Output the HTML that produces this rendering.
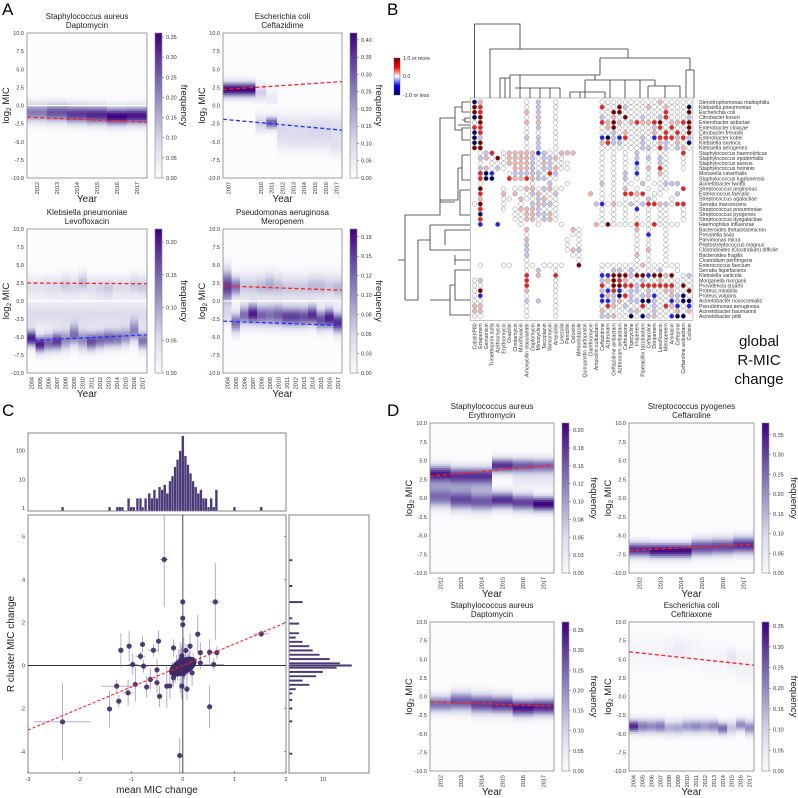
<!DOCTYPE html>
<html><head><meta charset="utf-8">
<style>
html,body{margin:0;padding:0;background:#fff;}
svg{display:block;font-family:"Liberation Sans",sans-serif;}
</style></head>
<body>
<svg id="fig" width="798" height="798" viewBox="0 0 798 798" xmlns="http://www.w3.org/2000/svg">
<defs>
<linearGradient id="purp" x1="0" y1="1" x2="0" y2="0">
<stop offset="0" stop-color="#fcfbfd"/><stop offset="0.25" stop-color="#dadaeb"/><stop offset="0.5" stop-color="#9e9ac8"/><stop offset="0.75" stop-color="#6a51a3"/><stop offset="1" stop-color="#3f007d"/>
</linearGradient>
<linearGradient id="seis" x1="0" y1="1" x2="0" y2="0">
<stop offset="0" stop-color="#00004c"/><stop offset="0.25" stop-color="#0000ff"/><stop offset="0.5" stop-color="#ffffff"/><stop offset="0.75" stop-color="#ff0000"/><stop offset="1" stop-color="#800000"/>
</linearGradient>
</defs>
<text x="2" y="15" font-size="17">A</text>
<text x="387" y="15" font-size="17">B</text>
<text x="2" y="416" font-size="17">C</text>
<text x="387" y="416" font-size="17">D</text>
<g id="gA"></g>
<g id="gB"></g>
<g id="gC"></g>
<g id="gD"></g>
</svg>
<script>
// ---------- Panel A / D heatmap data ----------
const a1Years=["2012","2013","2014","2015","2016","2017"];
const a1Modes=[[[-1.0,0.9,0.22]],[[-1.0,0.9,0.27]],[[-1.2,0.9,0.3]],[[-1.3,0.9,0.32]],[[-1.5,0.85,0.36]],[[-1.4,0.85,0.34]]];
const a1Red=[-1.6,-2.3];const a1Blue=null;const a1Max=0.36;
const a1Ticks=[0,0.05,0.1,0.15,0.2,0.25,0.3,0.35];

const a2Years=["2007","","","2010","2011","2012","2013","2014","2015","2016","2017"];
const a2Modes=[[[2.2,0.7,0.42]],[[2.2,0.7,0.42]],[[2.2,0.7,0.42]],[[1.8,0.8,0.12],[-2.5,0.8,0.12]],[[-2.4,0.6,0.3],[1,0.8,0.05]],[[-3,1.2,0.1],[-5,1,0.05]],[[-3,1.2,0.09],[-5,1,0.06]],[[-3,1.2,0.09],[-5,1,0.06]],[[-3,1.2,0.1],[-5,1,0.06]],[[-3,1.2,0.1],[-5,1,0.06]],[[-3,1.2,0.09],[-5.5,1,0.07]]];
const a2Red=[2.2,3.3];const a2Blue=[-1.9,-3.4];const a2Max=0.42;
const a2Ticks=[0,0.05,0.1,0.15,0.2,0.25,0.3,0.35,0.4];

const a3Years=["2004","2005","2006","2007","2008","2009","2010","2011","2012","2013","2014","2015","2016","2017"];
const a3Modes=[[[-5.2,0.8,0.2],[2,1,0.04],[-2,1.3,0.05]],[[-6,0.8,0.2],[2,1,0.04],[-2,1.3,0.05]],[[-5.8,0.9,0.15],[2,1,0.05],[-2,1.3,0.05]],[[-5.6,0.9,0.18],[2,1,0.05],[-2,1.3,0.05]],[[-5.4,1,0.12],[2.2,1,0.07],[-2,1.3,0.05]],[[-4.8,1,0.14],[2,1,0.06],[-2,1.3,0.05]],[[-5.4,1,0.12],[2.5,1,0.08],[-2,1.3,0.05]],[[-5.6,0.9,0.17],[2,1,0.05],[-2,1.3,0.05]],[[-5.4,0.9,0.15],[1.8,1,0.06],[-2,1.3,0.05]],[[-5.2,0.9,0.15],[1.8,1,0.07],[-2,1.3,0.05]],[[-5.2,0.9,0.14],[2,1,0.05],[-2,1.3,0.05]],[[-5,0.9,0.12],[2,1,0.05],[-2,1.3,0.05]],[[-4.3,1,0.12],[2.2,1,0.07],[-2,1.3,0.05]],[[-5.5,0.9,0.14],[2,1,0.07],[-2,1.3,0.05]]];
const a3Red=[2.5,2.4];const a3Blue=[-5.5,-4.7];const a3Max=0.22;
const a3Ticks=[0,0.05,0.1,0.15,0.2];

const a4Years=a3Years;
const a4Modes=[[[2,1.6,0.15],[-2,1,0.04]],[[2,1,0.12],[-3,1,0.12]],[[-2,1,0.12],[2,1.2,0.06]],[[-1.8,1,0.17],[2,1.2,0.06]],[[-2,1,0.13],[2,1.2,0.07]],[[-2,1.1,0.12],[2.2,1.2,0.08]],[[-2,1.1,0.13],[2,1.2,0.07]],[[-2.2,1,0.15],[1.8,1.2,0.06]],[[-2.2,1,0.15],[1.8,1.2,0.06]],[[-2.2,1,0.14],[1.8,1.2,0.06]],[[-2,1,0.16],[2,1.2,0.07]],[[-2.6,1,0.14],[2,1.2,0.07]],[[-2.4,1,0.17],[2,1.2,0.06]],[[-3,1,0.16],[1.8,1.2,0.07]]];
const a4Red=[2.1,1.5];const a4Blue=[-2.8,-3.4];const a4Max=0.185;
const a4Ticks=[0,0.025,0.05,0.075,0.1,0.125,0.15,0.175];
const a4Labels=["0.00","0.03","0.05","0.08","0.10","0.12","0.15","0.18"];

const d1Years=a1Years;
const d1Modes=[[[3.2,0.8,0.19],[0,0.9,0.13],[1.5,0.8,0.05]],[[3,0.8,0.17],[-0.3,0.9,0.16],[1.5,0.8,0.05]],[[3,0.8,0.17],[-0.5,0.9,0.15],[1.5,0.8,0.05]],[[4.3,0.7,0.18],[-0.3,0.8,0.18]],[[4.3,0.7,0.15],[-0.6,0.8,0.17],[2.5,0.8,0.03]],[[4.3,0.7,0.14],[-0.8,0.7,0.21],[2.5,0.8,0.03]]];
const d1Red=[2.9,4.4];const d1Max=0.21;
const d1Ticks=[0,0.025,0.05,0.075,0.1,0.125,0.15,0.175,0.2];
const d1Labels=["0.00","0.03","0.05","0.08","0.10","0.12","0.15","0.18","0.20"];

const d2Years=a1Years;
const d2Modes=[[[-6.9,0.7,0.33]],[[-7,0.7,0.37]],[[-7,0.7,0.37]],[[-6.6,0.8,0.3]],[[-6.5,0.8,0.3]],[[-6.3,0.8,0.33]]];
const d2Red=[-7,-6.2];const d2Max=0.38;
const d2Ticks=[0,0.05,0.1,0.15,0.2,0.25,0.3,0.35];

const d3Years=a1Years;
const d3Modes=[[[-1,0.8,0.24]],[[-0.7,0.9,0.27]],[[-1,0.9,0.3]],[[-1.1,0.85,0.32]],[[-1.5,0.8,0.35]],[[-1.4,0.8,0.33]]];
const d3Red=[-0.7,-1.3];const d3Max=0.37;
const d3Ticks=[0,0.05,0.1,0.15,0.2,0.25,0.3,0.35];

const d4Years=a3Years;
const d4Modes=[[[-4,0.6,0.32],[6,1.5,0.02]],[[-4,0.7,0.22],[6,1.5,0.02]],[[-4,0.7,0.2],[6,1.5,0.02]],[[-4,0.7,0.22],[6,1.5,0.02]],[[-4.2,0.7,0.15],[6,1.5,0.03]],[[-4.2,0.7,0.16],[6.3,1.2,0.04]],[[-4,0.7,0.18],[6,1.5,0.03]],[[-4,0.7,0.2],[6,1.5,0.02]],[[-4,0.7,0.18],[5,1.5,0.02]],[[-4,0.7,0.2],[5,1.5,0.02]],[[-4.3,0.6,0.24],[5,1.5,0.02]],[[-4.2,0.7,0.12],[5,1,0.06]],[[-3.8,0.6,0.2],[4,1.5,0.03]],[[-4.2,0.7,0.2],[4,1.5,0.03]]];
const d4Red=[6,4.2];const d4Max=0.36;
const d4Ticks=[0,0.05,0.1,0.15,0.2,0.25,0.3,0.35];

// ---------- Panel B data ----------
const bCols=["ColistinP80","Ertapenem","Gentamicin","Trimethoprim sulfa","Azithromycin","Erythromycin","Oxacillin","Clindamycin","Moxifloxacin","Amoxycillin clavulanate","Daptomycin","Minocycline","Teicoplanin","Vancomycin","Ampicillin","Linezolid","Penicillin","Cefoxitin","Metronidazole","Quinupristin dalfopristin","Clarithromycin","Ampicillin sulbactam","Ceftazidime","Aztreonam","Ceftazidime avibactam","Aztreonam avibactam","Ceftriaxone","Tigecycline","Imipenem","Piperacillin tazobactam","Ceftaroline","Doripenem","Levofloxacin","Meropenem","Amikacin","Cefepime","Ceftaroline avibactam","Colistin"];
const bRows=["Stenotrophomonas maltophilia","Klebsiella pneumoniae","Escherichia coli","Citrobacter koseri","Enterobacter asburiae","Enterobacter cloacae","Citrobacter freundii","Enterobacter kobei","Klebsiella oxytoca","Klebsiella aerogenes","Staphylococcus haemolyticus","Staphylococcus epidermidis","Staphylococcus aureus","Staphylococcus hominis","Moraxella catarrhalis","Staphylococcus lugdunensis","Acinetobacter lwoffii","Streptococcus anginosus","Enterococcus faecalis","Streptococcus agalactiae","Serratia marcescens","Streptococcus pneumoniae","Streptococcus pyogenes","Streptococcus dysgalactiae","Haemophilus influenzae","Bacteroides thetaiotaomicron","Prevotella bivia","Parvimonas micra","Peptostreptococcus magnus","Clostridioides (Clostridium) difficile","Bacteroides fragilis","Clostridium perfringens","Enterococcus faecium","Serratia liquefaciens","Klebsiella variicola","Morganella morganii","Providencia stuartii","Proteus mirabilis","Proteus vulgaris","Acinetobacter nosocomialis","Pseudomonas aeruginosa","Acinetobacter baumannii","Acinetobacter pittii"];
const bValues=[
"Bp       o l  o       oooooooooopoooooop",
"Rr       o l  o       rooRlooopoopoooBR",
"Rr       p l  o       ooRRoooooooroooRb",
"BR       o l  o       lopoRooloolrooolb",
"oR       p p  o       rpRpoprpprRopprRr",
"rr       o l  o       opRoooooolrorooRR",
"Br       o o  o       oolopoooopororoRb",
"Bl       l l  o       bBlbroolobrrrprlo",
"BR       o l  o       prllooolooplopoBb",
"RR       o l  o       ooooooollorlolpoo",
" olr opppppblooppp    o o o l o oo  r ",
" lpoRopppplollpo      o o o l l lo  o ",
" o ooopppploplooo     o o o b o lo  o ",
" lpolo ppplollpoo     o o o l p ro  o ",
" rBb  olllllorl       o o l b o po    ",
" rBB  rpprplloo       o o l o o oo    ",
" o        o  l  o     l o oo l oolll  ",
" R   o ooppolpoo      o o p o o oo  r ",
" r   p p olpool     p o o rrpr oo  l ",
" p   oo poolpoo       o o o o lo  o ",
"oR   o  o lpllo      lbopoololrrplorr",
" r   o oppplooo       o o o b o oo  o ",
" B     ooppllpo       o o o o o oo  o ",
" r     ooppolpo       o o o o o oo  o ",
" b  b   o  o   o     poRoooorooroooo ",
"         p       po         p o  o    ",
"         o       oo         o b  o    ",
"         p      o o         o o  o    ",
"         l      o o         o o  o    ",
"         l      opl         o p  o    ",
"         l       oo         p o  o    ",
"         o        o         o o  o    ",
" o   oo  oo oooo  R   ooooooopoooooo  ",
"         o l  o       o llolo ool  o ",
"         r p  r       bbRRRlRRbRRpR ol",
"ol       r    o       lpRrpooloopooooo",
"oo       r    o       roRRrrlrrrrrroRo",
"oR       p    o       lbrbollolooppooR",
"ob       o    o       bplBrlolpbooplBo",
"oo       l l  o       bblpollBBlooblBB",
"pp       o    o       orpoloorolorpbob",
"pp       o    o       poooolpoolooopop",
"oo       o    o       llpooBoBlpoobBB"];

// ---------- Panel C data ----------
const cPtsX=[-0.36,0,0.63,1.52,-2.33,-1.42,-1.24,-1.28,-1.2,-1.04,-0.97,-0.78,-0.82,-1.06,-0.57,-0.47,-0.45,0.52,0.29,-0.06,0,0,-0.18,0.14,0.34,0.66,0.52,-0.63,-0.5,-0.76,-0.31,-0.18,-0.02,0.18,0.08,-0.92,-0.7,-0.5,-0.25,0.34,0.6,0.02,-0.05,0.05,-0.1,0.1,0,-0.03,0.04,-0.08,0.08,-0.12,0.12,0.01,-0.02,0.03,-0.15,0.2,-0.2,0.06];
const cPtsY=[4.93,2.96,2.96,1.47,-2.62,-2.02,-1.66,-0.96,0.71,0.9,0.05,0.98,0.43,-1.27,0.71,1.13,-1.43,-1.92,1.46,-4.19,2.2,1.9,0.82,0.9,0.6,0.6,0.62,-0.65,-0.2,-0.03,-0.96,-0.57,-0.96,-0.34,-1.1,-0.88,-1.0,-0.8,-0.95,0.12,0.05,0.1,-0.1,0.2,-0.2,0.05,-0.3,0.3,-0.05,0.15,-0.15,0.0,0.25,-0.4,0.45,-0.25,-0.3,0.2,-0.35,0.7];
const cErrX=[0.08,0.02,0.1,0.15,0.55,0.05,0.05,0.3,0.05,0.05,0.1,0.05,0.1,0.1,0.1,0.05,0.05,0.05,0.05,0.02,0.02,0.02,0.05,0.05,0.05,0.05,0.05,0.05,0.05,0.1,0.05,0.05,0.05,0.05,0.05,0.05,0.05,0.05,0.05,0.05,0.2,0.05,0.05,0.05,0.05,0.05,0.05,0.05,0.05,0.05,0.05,0.05,0.05,0.05,0.05,0.05,0.05,0.05,0.05,0.05];
const cErrY=[2.2,1.5,1.8,0.15,1.8,0.85,0.3,0.3,0.8,0.7,0.5,0.4,0.2,0.6,0.3,0.5,0.5,1.0,0.9,0.8,1.0,0.8,0.4,0.6,0.5,0.3,0.6,0.5,0.5,0.3,1.0,0.4,0.6,0.6,0.5,0.8,0.5,0.5,0.6,0.3,0.3,1.2,1.2,0.6,0.5,0.5,0.8,0.5,0.4,0.6,0.5,0.5,0.4,0.6,0.5,0.4,0.5,0.4,0.5,0.3];
const cTopBins=[-2.33,-1.42,-1.27,-1.22,-1.17,-1.05,-1.0,-0.95,-0.88,-0.82,-0.78,-0.72,-0.65,-0.6,-0.55,-0.5,-0.45,-0.4,-0.35,-0.3,-0.25,-0.2,-0.15,-0.1,-0.05,0,0.05,0.1,0.15,0.2,0.25,0.3,0.35,0.4,0.45,0.5,0.55,0.6,0.65,1.0,1.52];
const cTopCounts=[1,1,1,1,1,2,1,1,2,2,1,2,3,2,4,2,5,4,6,3,8,12,25,45,90,300,60,30,15,8,5,3,4,2,2,1,2,1,4,1,1];
const cRightBins=[4.9,3.7,2.95,2.2,1.95,1.5,1.3,1.1,0.9,0.7,0.5,0.3,0.1,0.0,-0.1,-0.3,-0.5,-0.7,-0.9,-1.1,-1.3,-1.6,-2.0,-2.6,-4.1];
const cRightCounts=[1,1,4,1,3,3,2,4,6,7,9,12,15,18.5,14,10,8,4,6,2,1,1,1,1,1];

// ---------- helpers ----------
const NS="http://www.w3.org/2000/svg";
function mk(parent,tag,attrs,txt){const e=document.createElementNS(NS,tag);for(const k in attrs)e.setAttribute(k,attrs[k]);if(txt!==undefined)e.textContent=txt;parent.appendChild(e);return e;}
const PST=[[0,[252,251,253]],[0.25,[218,218,235]],[0.5,[158,154,200]],[0.75,[106,81,163]],[1,[63,0,125]]];
function purple(t){t=Math.max(0,Math.min(1,t));for(let i=1;i<PST.length;i++){if(t<=PST[i][0]){const a=PST[i-1],b=PST[i];const f=(t-a[0])/(b[0]-a[0]);const c=a[1].map((v,k)=>Math.round(v+(b[1][k]-v)*f));return `rgb(${c[0]},${c[1]},${c[2]})`;}}return "rgb(63,0,125)";}

function heat(g,name,x0,y0,w,h,cbx,fOff,title1,title2,years,modes,red,blue,cmax,ticks,tickLabels,zeroLine){
  const grp=mk(g,"g",{});
  
  
  const n=years.length,cw=w/n;
  const ys=v=>y0+h*(10-v)/20;
  for(let i=0;i<n;i++){
    for(let k=0;k<80;k++){
      const v=10-k*0.25-0.125;let s=0;
      modes[i].forEach(m=>{s+=m[2]*Math.exp(-((v-m[0])**2)/(2*m[1]*m[1]));});
      const r=mk(grp,"rect",{x:(x0+i*cw).toFixed(2),y:(y0+k*h/80).toFixed(2),width:(cw+0.4).toFixed(2),height:(h/80+0.4).toFixed(2),fill:purple(s/cmax)});
      
      
    }
    if(years[i]){const t=mk(grp,"text",{x:0,y:0,"font-size":5.5,fill:"#333","text-anchor":"end",transform:`translate(${(x0+(i+0.5)*cw+2).toFixed(1)},${y0+h+4}) rotate(-90)`},years[i]);
      }
  }
  if(zeroLine){const l=mk(grp,"line",{x1:x0,x2:x0+w,y1:ys(0),y2:ys(0),stroke:"#fff","stroke-width":1.2});}
  if(red){const l=mk(grp,"line",{x1:x0,x2:x0+w,y1:ys(red[0]),y2:ys(red[1]),stroke:"#ff2222","stroke-width":1.3,"stroke-dasharray":"4,2.5"});}
  if(blue){const l=mk(grp,"line",{x1:x0,x2:x0+w,y1:ys(blue[0]),y2:ys(blue[1]),stroke:"#2233ff","stroke-width":1.3,"stroke-dasharray":"4,2.5"});}
  const fr=mk(grp,"rect",{x:x0,y:y0,width:w,height:h,fill:"none",stroke:"#888","stroke-width":0.8});
  
  for(let v=-10;v<=10;v+=2.5){const t=mk(grp,"text",{x:x0-3,y:ys(v)+2,"font-size":5.5,fill:"#333","text-anchor":"end"},v.toFixed(1));
    }
  const yl=mk(grp,"text",{x:0,y:0,"font-size":9.5,fill:"#222","text-anchor":"middle",transform:`translate(${x0-18},${y0+h/2}) rotate(-90)`});
  
  yl.appendChild(document.createTextNode("log"));mk(yl,"tspan",{"font-size":6.5,dy:2},"2");mk(yl,"tspan",{dy:-2}," MIC");
  const xl=mk(grp,"text",{x:x0+w/2,y:y0+h+24,"font-size":10,fill:"#222","text-anchor":"middle"},"Year");
  
  const t1=mk(grp,"text",{x:x0+w/2,y:y0-14,"font-size":8,fill:"#222","text-anchor":"middle"},title1);
  
  const t2=mk(grp,"text",{x:x0+w/2,y:y0-5,"font-size":8,fill:"#222","text-anchor":"middle"},title2);
  
  const cb=mk(grp,"rect",{x:cbx,y:y0,width:7,height:h,fill:"url(#purp)",stroke:"#888","stroke-width":0.6});
  
  ticks.forEach((tv,i)=>{const yy=y0+h-h*tv/cmax;
    mk(grp,"line",{x1:cbx+7,x2:cbx+9,y1:yy,y2:yy,stroke:"#555","stroke-width":0.5});
    const t=mk(grp,"text",{x:cbx+11,y:yy+2,"font-size":5.5,fill:"#333"},tickLabels?tickLabels[i]:tv.toFixed(2));
    });
  const fl=mk(grp,"text",{x:0,y:0,"font-size":9.5,fill:"#222","text-anchor":"middle",transform:`translate(${cbx+fOff},${y0+h/2}) rotate(90)`},"frequency");
  
}
const gA=document.getElementById("gA"),gD=document.getElementById("gD");
heat(gA,"heatmap-saureus-daptomycin",27,33,120,145,155,26,"Staphylococcus aureus","Daptomycin",a1Years,a1Modes,a1Red,a1Blue,a1Max,a1Ticks,null,true);
heat(gA,"heatmap-ecoli-ceftazidime",223,33,119,145,350,26,"Escherichia coli","Ceftazidime",a2Years,a2Modes,a2Red,a2Blue,a2Max,a2Ticks,null,true);
heat(gA,"heatmap-kpneumoniae-levofloxacin",27,229,120,144,155,26,"Klebsiella pneumoniae","Levofloxacin",a3Years,a3Modes,a3Red,a3Blue,a3Max,a3Ticks,null,true);
heat(gA,"heatmap-paeruginosa-meropenem",223,229,119,144,350,26,"Pseudomonas aeruginosa","Meropenem",a4Years,a4Modes,a4Red,a4Blue,a4Max,a4Ticks,a4Labels,true);
heat(gD,"heatmap-saureus-erythromycin",430,423,124,150,562,29,"Staphylococcus aureus","Erythromycin",d1Years,d1Modes,d1Red,null,d1Max,d1Ticks,d1Labels,false);
heat(gD,"heatmap-spyogenes-ceftaroline",629,423,125,150,762,29,"Streptococcus pyogenes","Ceftaroline",d2Years,d2Modes,d2Red,null,d2Max,d2Ticks,null,false);
heat(gD,"heatmap-saureus-daptomycin-d",430,622,124,149,562,29,"Staphylococcus aureus","Daptomycin",d3Years,d3Modes,d3Red,null,d3Max,d3Ticks,null,false);
heat(gD,"heatmap-ecoli-ceftriaxone",629,622,125,149,762,29,"Escherichia coli","Ceftriaxone",d4Years,d4Modes,d4Red,null,d4Max,d4Ticks,null,false);

// ---------- Panel B ----------
(function(){
  const g=document.getElementById("gB");
  const bx0=474.5,bdx=5.8,by0=102,bdy=5.1;
  const col={o:"#ffffff",p:"#f2b5b5",r:"#ee2222",R:"#7a0000",l:"#c4c4f2",b:"#2222ee",B:"#00005a"};
  const bg=mk(g,"rect",{x:bx0-4,y:by0-4,width:bCols.length*bdx+2,height:bRows.length*bdy+3,fill:"#fff",stroke:"#999","stroke-width":0.6});
  
  bValues.forEach((row,j)=>{for(let i=0;i<bCols.length;i++){const ch=row[i];if(!ch||ch===" ")continue;
    const c=mk(g,"circle",{cx:(bx0+i*bdx).toFixed(1),cy:(by0+j*bdy).toFixed(1),r:2.3,fill:col[ch]||"#fff",stroke:"#888","stroke-width":0.45});
    }});
  bRows.forEach((r,j)=>{const t=mk(g,"text",{x:699,y:by0+j*bdy+1.8,"font-size":5.2,fill:"#333"},r);
    });
  bCols.forEach((c,i)=>{const t=mk(g,"text",{x:0,y:0,"font-size":5.2,fill:"#333","text-anchor":"end",transform:`translate(${(bx0+i*bdx+1.8).toFixed(1)},${by0+bRows.length*bdy+2}) rotate(-90)`},c);
    });
  const top="M474.5,98V24H520V49 M490,49H628 M490,49V98 M628,49V58 M600,58H690 M600,58V75 M690,58V70 M686,70H694 M686,70V98 M694,70V98 M510,75H600 M510,75V98 M505,78V98 M500,98V78H510 M520,75V88 M515,88H560 M520,88V98 M530,88V98 M540,88V98 M550,88V98 M560,88V98 M595,75V80 M585,80H655 M585,80V98 M610,80V98 M625,80V98 M640,80V98 M655,80V86 M648,86H680 M648,86V98 M665,86V98 M680,86V98 M570,92H605 M570,92V98 M580,92V98 M605,92V98";
  const p1=mk(g,"path",{d:top,fill:"none",stroke:"#333","stroke-width":0.8});
  
  const left="M470,102H462V112H470 M462,107H455V130H462 M470,118H465V122H470 M465,120H462 M458,125H470 M455,118H440V215H425 M470,128H462V140H470 M440,215 M462,155H470 M462,155V180H470 M458,168H462 M458,168V200H440 M470,190H460V215H470 M455,202H440 M430,225H470 M430,225V250H470 M445,230H470 M445,230V245 M418,240H430 M418,240V300H405 M470,270H455V300H470 M450,285H455 M450,285V315H470 M430,300H450 M405,300V215H425 M398,260H405 M470,260H455 M455,255V265";
  const p2=mk(g,"path",{d:left,fill:"none",stroke:"#333","stroke-width":0.8});
  
  const cb=mk(g,"rect",{x:394,y:58,width:6,height:37,fill:"url(#seis)",stroke:"#555","stroke-width":0.4});
  
  [["1.0 or more",60],["0.0",78],["-1.0 or less",97]].forEach(a=>{const t=mk(g,"text",{x:403,y:a[1],"font-size":5.3,fill:"#333"},a[0]);});
  [["global",346],["R-MIC",365],["change",384]].forEach(a=>{const t=mk(g,"text",{x:759,y:a[1],"font-size":15,fill:"#111","text-anchor":"middle"},a[0]);});
})();

// ---------- Panel C ----------
(function(){
  const g=document.getElementById("gC");
  const X0=28,X1=286,Y0=515,Y1=773;
  const sx=v=>X0+(v+3)/5*(X1-X0), sy=v=>Y1-(v+5)/12*(Y1-Y0);
  const fr=mk(g,"rect",{x:X0,y:Y0,width:X1-X0,height:Y1-Y0,fill:"#fff",stroke:"#666","stroke-width":0.8});
  
  mk(g,"line",{x1:X0,x2:X1,y1:sy(0),y2:sy(0),stroke:"#333","stroke-width":0.9});
  mk(g,"line",{x1:sx(0),x2:sx(0),y1:Y0,y2:Y1,stroke:"#333","stroke-width":0.9});
  cPtsX.forEach((x,i)=>{const y=cPtsY[i];
    const e1=mk(g,"line",{x1:sx(x),x2:sx(x),y1:sy(Math.min(7,y+cErrY[i])),y2:sy(y-cErrY[i]),stroke:"#8a7daa","stroke-width":0.9,opacity:0.7});
    
    const e2=mk(g,"line",{x1:sx(x-cErrX[i]),x2:sx(x+cErrX[i]),y1:sy(y),y2:sy(y),stroke:"#8a7daa","stroke-width":0.9,opacity:0.7});
    });
  cPtsX.forEach((x,i)=>{const c=mk(g,"circle",{cx:sx(x),cy:sy(cPtsY[i]),r:2.6,fill:"#3e2a68",opacity:0.9});
    });
  const blob=mk(g,"ellipse",{cx:sx(0),cy:sy(-0.05),rx:15,ry:8,fill:"#3e2a68",transform:`rotate(-28 ${sx(0)} ${sy(-0.05)})`});
  
  const fit=mk(g,"line",{x1:sx(-3),y1:sy(-3),x2:sx(2),y2:sy(2),stroke:"#ff2222","stroke-width":1.1,"stroke-dasharray":"3,2"});
  
  [-3,-2,-1,0,1,2].forEach(v=>{const t=mk(g,"text",{x:sx(v),y:Y1+8,"font-size":5.5,fill:"#333","text-anchor":"middle"},String(v));
    mk(g,"line",{x1:sx(v),x2:sx(v),y1:Y1,y2:Y1-2,stroke:"#333","stroke-width":0.5});});
  [-4,-2,0,2,4,6].forEach(v=>{const t=mk(g,"text",{x:X0-3,y:sy(v)+2,"font-size":5.5,fill:"#333","text-anchor":"end"},String(v));
    mk(g,"line",{x1:X1,x2:X1-2,y1:sy(v),y2:sy(v),stroke:"#333","stroke-width":0.5});});
  const xl=mk(g,"text",{x:(X0+X1)/2,y:Y1+20,"font-size":10,fill:"#222","text-anchor":"middle"},"mean MIC change");
  
  const yl=mk(g,"text",{x:0,y:0,"font-size":10,fill:"#222","text-anchor":"middle",transform:`translate(${X0-14},${(Y0+Y1)/2}) rotate(-90)`},"R cluster MIC change");
  
  const TY0=433,TY1=511;
  const ly=c=>508-Math.log10(c)*28.7;
  const tf=mk(g,"rect",{x:X0,y:TY0,width:X1-X0,height:TY1-TY0,fill:"#fff",stroke:"#666","stroke-width":0.8});
  
  cTopBins.forEach((b,i)=>{const x=sx(b-0.025),w=sx(b+0.025)-x;const y=Math.max(TY0,ly(cTopCounts[i])-1);
    const r=mk(g,"rect",{x:x,y:y,width:w,height:TY1-y,fill:"#4b3a78",stroke:"#fff","stroke-width":0.2});
    });
  [[1,"1"],[10,"10"],[100,"100"]].forEach(a=>{const t=mk(g,"text",{x:X0-3,y:ly(a[0])+2,"font-size":5.5,fill:"#333","text-anchor":"end"},a[1]);});
  const RX0=289,RX1=369;
  const rf=mk(g,"rect",{x:RX0,y:Y0,width:RX1-RX0,height:Y1-Y0,fill:"#fff",stroke:"#666","stroke-width":0.8});
  
  cRightBins.forEach((b,i)=>{const y=sy(b+0.05),h=sy(b-0.05)-y;
    const r=mk(g,"rect",{x:RX0,y:y,width:cRightCounts[i]*3.4,height:h,fill:"#4b3a78",stroke:"#fff","stroke-width":0.2});
    });
  const t10=mk(g,"text",{x:RX0+34,y:Y1+8,"font-size":5.5,fill:"#333","text-anchor":"middle"},"10");
  
})();
</script>
</body></html>
